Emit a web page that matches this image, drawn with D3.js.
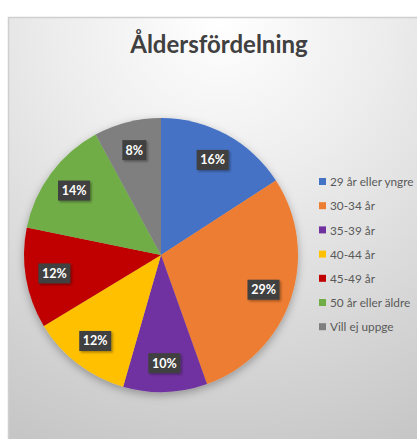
<!DOCTYPE html>
<html>
<head>
<meta charset="utf-8">
<script src="https://cdn.jsdelivr.net/npm/d3@7"></script>
<style>
  html, body { margin: 0; padding: 0; background: #fff; }
  svg { display: block; }
</style>
</head>
<body>
<div id="chart"></div>
<script>
const categories = ["29 år eller yngre", "30-34 år", "35-39 år", "40-44 år", "45-49 år", "50 år eller äldre", "Vill ej uppge"];
const values = [16, 29, 10, 12, 12, 14, 8];
const labels = ["16%", "29%", "10%", "12%", "12%", "14%", "8%"];
const colors = ["#4472C4", "#ED7D31", "#7030A0", "#FFC000", "#C00000", "#70AD47", "#7F7F7F"];
const title = "Åldersfördelning";

const width = 417, height = 439;
const cx = 161, cy = 255, R = 137;

const svg = d3.select("#chart").append("svg")
  .attr("width", width)
  .attr("height", height);

const defs = svg.append("defs");

const bg = defs.append("radialGradient")
  .attr("id", "bg")
  .attr("gradientUnits", "userSpaceOnUse")
  .attr("cx", 220).attr("cy", 20).attr("r", 460);
bg.append("stop").attr("offset", "0").attr("stop-color", "#ffffff");
bg.append("stop").attr("offset", "0.35").attr("stop-color", "#ededed");
bg.append("stop").attr("offset", "1").attr("stop-color", "#c6c6c6");

const pieShadow = defs.append("filter").attr("id", "pieShadow")
  .attr("x", "-20%").attr("y", "-20%").attr("width", "140%").attr("height", "140%");
pieShadow.append("feDropShadow")
  .attr("dx", 0).attr("dy", 3).attr("stdDeviation", 4)
  .attr("flood-color", "#000").attr("flood-opacity", 0.3);

const boxShadow = defs.append("filter").attr("id", "boxShadow")
  .attr("x", "-30%").attr("y", "-30%").attr("width", "160%").attr("height", "160%");
boxShadow.append("feDropShadow")
  .attr("dx", 1.5).attr("dy", 1.5).attr("stdDeviation", 1)
  .attr("flood-color", "#000").attr("flood-opacity", 0.35);

// chart area
svg.append("rect")
  .attr("x", 8.5).attr("y", 17.5)
  .attr("width", width).attr("height", height)
  .attr("fill", "url(#bg)")
  .attr("stroke", "#cfcfcf")
  .attr("stroke-width", 1.5);

svg.append("text")
  .attr("x", 219).attr("y", 53)
  .attr("text-anchor", "middle")
  .attr("font-family", "Lato, 'Open Sans', sans-serif")
  .attr("font-weight", "bold")
  .attr("font-size", 24)
  .attr("fill", "#404040")
  .text(title);

const pie = d3.pie().sort(null).value(d => d);
const arcs = pie(values);
const arc = d3.arc().innerRadius(0).outerRadius(R);
const labelArc = d3.arc().innerRadius(R * 0.79).outerRadius(R * 0.79);

const g = svg.append("g").attr("transform", `translate(${cx},${cy})`);

g.append("g")
  .attr("filter", "url(#pieShadow)")
  .selectAll("path")
  .data(arcs)
  .enter()
  .append("path")
  .attr("d", arc)
  .attr("fill", (d, i) => colors[i]);

const lab = g.selectAll(".lab")
  .data(arcs)
  .enter()
  .append("g")
  .attr("class", "lab")
  .attr("transform", d => `translate(${labelArc.centroid(d)})`);

lab.append("rect")
  .attr("x", (d, i) => labels[i].length > 2 ? -16 : -12)
  .attr("y", -10)
  .attr("width", (d, i) => labels[i].length > 2 ? 32 : 24)
  .attr("height", 20)
  .attr("fill", "#404040")
  .attr("filter", "url(#boxShadow)");

lab.append("text")
  .attr("text-anchor", "middle")
  .attr("dy", "0.36em")
  .attr("font-family", "Lato, 'Open Sans', sans-serif")
  .attr("font-weight", "bold")
  .attr("font-size", 12.5)
  .attr("fill", "#ffffff")
  .text((d, i) => labels[i]);

// legend
const y0 = 182, step = 24.2;
const leg = svg.selectAll(".leg")
  .data(categories)
  .enter()
  .append("g")
  .attr("class", "leg")
  .attr("transform", (d, i) => `translate(319,${y0 + i * step})`);

leg.append("rect")
  .attr("x", 0).attr("y", -4)
  .attr("width", 7).attr("height", 7)
  .attr("fill", (d, i) => colors[i]);

leg.append("text")
  .attr("x", 11)
  .attr("dy", "0.35em")
  .attr("font-family", "Lato, 'Open Sans', sans-serif")
  .attr("font-size", 11.8)
  .attr("fill", "#595959")
  .text(d => d);
</script>
</body>
</html>
